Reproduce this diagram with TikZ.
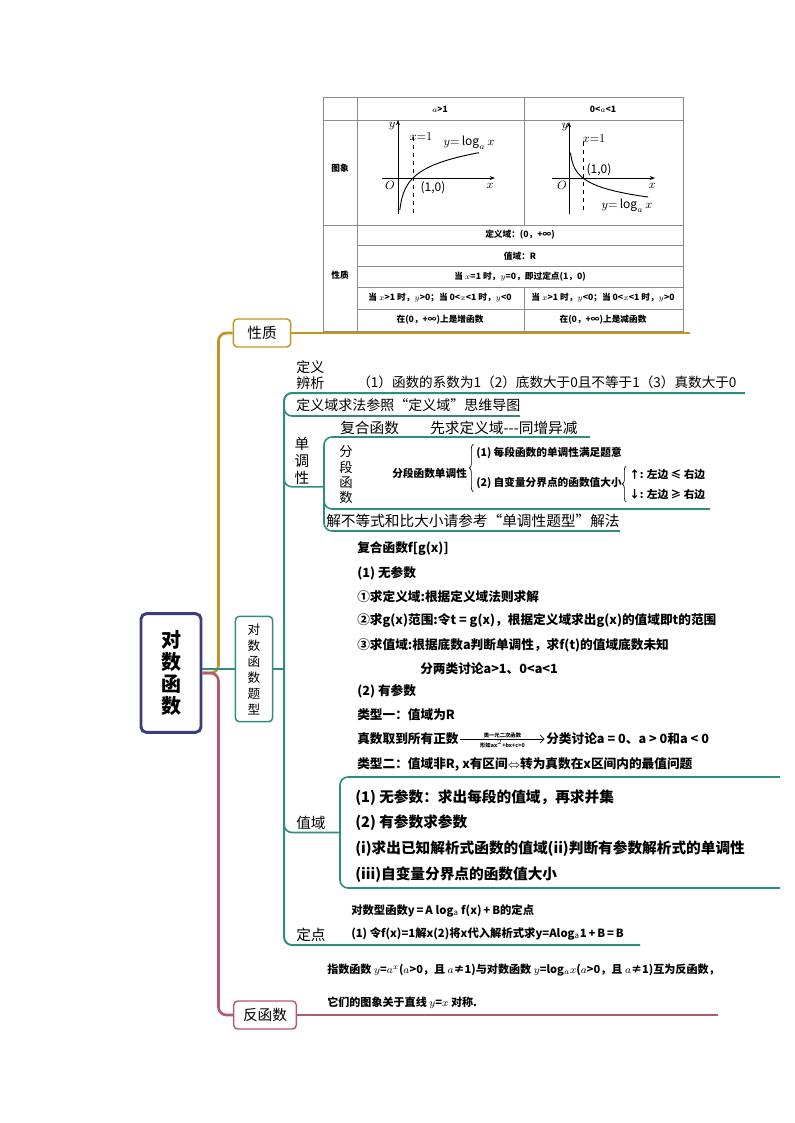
\documentclass[tikz,border=0pt]{standalone}
\usepackage{fontspec}
\setmainfont{Noto Sans CJK SC}
\usetikzlibrary{positioning, calc, arrows.meta, decorations.pathreplacing}
\definecolor{cJin}{HTML}{C39422}
\definecolor{cQing}{HTML}{2E8C80}
\definecolor{cHong}{HTML}{B55A6E}
\definecolor{cLan}{HTML}{3B3F78}
\definecolor{cKuang}{HTML}{8C8C8C}

\begin{document}
\begin{tikzpicture}[x=0.75pt, y=-0.75pt,
        box/.style={draw, line width=1.1pt, rounded corners=3pt, fill=white, align=center,
            inner sep=0pt, font=\fontsize{11}{13}\selectfont},
        zhi/.style={line width=1.5pt, rounded corners=6pt},
        zi/.style={anchor=west, inner sep=0pt, font=\fontsize{11}{13}\selectfont},
        tk/.style={anchor=west, inner sep=0pt, font=\fontsize{9.5}{11}\selectfont\bfseries},
        tkx/.style={anchor=west, inner sep=0pt, font=\fontsize{8.5}{10}\selectfont\bfseries},
        tzy/.style={anchor=west, inner sep=0pt, font=\fontsize{11}{13}\selectfont\bfseries},
        tb/.style={inner sep=0pt, font=\fontsize{6.5}{8}\selectfont\bfseries},
        gl/.style={inner sep=0pt, font=\fontsize{9}{10}\selectfont},
        shu/.style={align=center, inner sep=0pt, font=\fontsize{11}{12.5}\selectfont}
    ]
    \fill[white] (0,0) rectangle (794,1123);
    \useasboundingbox (0,0) rectangle (794,1123);

    % table
    \draw[cKuang, line width=0.6pt] (323,97) rectangle (683,331);
    \draw[cKuang, line width=0.6pt] (323,120) -- (683,120) (323,225) -- (683,225)
        (357,245) -- (683,245) (357,266) -- (683,266) (357,287) -- (683,287) (357,309) -- (683,309)
        (357,97) -- (357,331) (524,97) -- (524,225) (524,287) -- (524,331);
    \node[tb] (bT1) at (440,109) {$a$>1};
    \node[tb] (bT2) at (603,109) {0<$a$<1};
    \node[tb] (bTx) at (340,168) {图象};
    \node[tb] (bXz) at (340,275) {性质};
    \node[tb] (bR1) at (520,235) {定义域：(0，+∞)};
    \node[tb] (bR2) at (520,256) {值域：R};
    \node[tb] (bR3) at (520,277) {当 $x$=1 时，$y$=0，即过定点(1，0)};
    \node[tb] (bR4) at (440,298) {当 $x$>1 时，$y$>0；当 0<$x$<1 时，$y$<0};
    \node[tb] (bR5) at (603,298) {当 $x$>1 时，$y$<0；当 0<$x$<1 时，$y$>0};
    \node[tb] (bR6) at (440,320) {在(0，+∞)上是增函数};
    \node[tb] (bR7) at (603,320) {在(0，+∞)上是减函数};

    \draw[-{Stealth[length=4pt]}, line width=0.6pt] (382,178) -- (495,178);
    \draw[-{Stealth[length=4pt]}, line width=0.6pt] (398,214) -- (398,120);
    \draw[dashed, line width=0.6pt] (413,137) -- (413,213);
    \draw[line width=0.7pt] plot[domain=0.12:5.4, samples=60] ({398+15*\x},{178-15*ln(\x)});
    \node[gl] (g1y) at (392,126) {$y$};
    \node[gl] (g1x) at (490,186) {$x$};
    \node[gl] (g1o) at (390,185) {$O$};
    \node[gl] (g1d) at (421,137) {$x{=}1$};
    \node[gl] (g1l) at (469,143) {$y{=}\log_a x$};
    \node[gl] (g1p) at (433,188) {(1,0)};

    \draw[-{Stealth[length=4pt]}, line width=0.6pt] (552,178) -- (655,178);
    \draw[-{Stealth[length=4pt]}, line width=0.6pt] (569,214) -- (569,122);
    \draw[dashed, line width=0.6pt] (583,142) -- (583,213);
    \draw[line width=0.7pt] plot[domain=0.1:5.65, samples=60] ({569+14*\x},{178+11*ln(\x)});
    \node[gl] (g2y) at (565,127) {$y$};
    \node[gl] (g2x) at (652,186) {$x$};
    \node[gl] (g2o) at (562,185) {$O$};
    \node[gl] (g2d) at (594,139) {$x{=}1$};
    \node[gl] (g2l) at (627,206) {$y{=}\log_a x$};
    \node[gl] (g2p) at (599,170) {(1,0)};

    % main branches
    \node[box, draw=cLan, line width=2.2pt, rounded corners=4pt, minimum width=45pt, minimum height=89pt,
        font=\fontsize{15}{16.5}\selectfont\bfseries] (root) at (171,673) {对\\数\\函\\数};
    \node[box, draw=cJin, minimum width=43pt, minimum height=21pt] (xz) at (262,333) {性质};
    \node[box, draw=cQing, minimum width=28pt, minimum height=79pt,
        font=\fontsize{9.5}{12}\selectfont] (tx) at (254,669) {对\\数\\函\\数\\题\\型};
    \node[box, draw=cHong, minimum width=47pt, minimum height=21pt] (fhs) at (265,1015) {反函数};

    \coordinate (xzE) at (690,333);
    \coordinate (fhsE) at (718,1015);
    \draw[zhi, cJin, line width=2pt] (root.east) -- ++(16,0) |- (xz.west);
    \draw[zhi, cHong, line width=2pt] (root.east) -- ++(16,0) |- (fhs.west);
    \draw[zhi, cQing, line width=2pt] (root.east |- tx.west) -- (tx.west);
    \draw[cJin, line width=1.2pt] (xz.east) -- (xzE);
    \draw[cHong, line width=1.2pt] (fhs.east) -- (fhsE);

    % spine of the teal branch
    \coordinate (sT) at (284,393);
    \coordinate (sB) at (284,945);
    \coordinate (dyE) at (745,393);
    \coordinate (ddE) at (640,945);
    \coordinate (dyyE) at (520,416);
    \coordinate (dT) at (324,437);
    \coordinate (dB) at (324,531);
    \coordinate (fhE) at (590,437);
    \coordinate (jbE) at (620,531);
    \coordinate (fdE) at (710,509);
    \coordinate (zT) at (340,777);
    \coordinate (zB) at (340,888);
    \coordinate (zE1) at (780,777);
    \coordinate (zE2) at (780,888);
    \draw[zhi, cQing] (dyE) -- (sT) -- (sB) -- (ddE);
    \draw[zhi, cQing] (tx.east) -- (tx.east -| sT);
    \draw[zhi, cQing, line width=1.2pt] (sT) ++(0,12) |- (dyyE);
    \draw[zhi, cQing, line width=1.2pt] (fhE) -- (dT) -- (dB) -- (jbE);
    \draw[zhi, cQing, line width=1.2pt] (sT) ++(0,85) |- ($(dT)!0.53!(dB)$);
    \draw[zhi, cQing, line width=1.2pt] (dT) ++(0,62) |- (fdE);
    \draw[zhi, cQing, line width=1.2pt] (zE1) -- (zT) -- (zB) -- (zE2);
    \draw[zhi, cQing, line width=1.2pt] (sT) ++(0,430) |- ($(zT)!0.5!(zB)$);

    % texts
    \node[zi, align=left, font=\fontsize{10.5}{11.5}\selectfont] (dy) at (296,375) {定义\\辨析};
    \node[zi, font=\fontsize{10.2}{12}\selectfont] (dy1) at (357,382) {（1）函数的系数为1（2）底数大于0且不等于1（3）真数大于0};
    \node[zi, font=\fontsize{10.5}{12}\selectfont] (dyy) at (296,405) {定义域求法参照“定义域”思维导图};
    \node[shu] (ddx) at (302,461) {单\\调\\性};
    \node[zi] (fh) at (340,428) {复合函数};
    \node[zi] (fhT) at (430,428) {先求定义域-{}-{}-同增异减};
    \node[shu, font=\fontsize{10}{11.5}\selectfont] (fd) at (346,475) {分\\段\\函\\数};
    \node[zi, font=\fontsize{8}{9}\selectfont\bfseries] (fd1) at (392,473) {分段函数单调性};
    \node[zi, font=\fontsize{8}{9}\selectfont\bfseries] (fd2) at (476,453) {(1) 每段函数的单调性满足题意};
    \node[zi, font=\fontsize{8}{9}\selectfont\bfseries] (fd3) at (476,483) {(2) 自变量分界点的函数值大小};
    \node[zi, font=\fontsize{8}{9}\selectfont\bfseries] (fd4) at (629,474) {↑: 左边 ≤ 右边};
    \node[zi, font=\fontsize{8}{9}\selectfont\bfseries] (fd5) at (629,494) {↓: 左边 ≥ 右边};
    \draw[decorate, decoration={brace, amplitude=3pt}, line width=0.5pt]
        ([xshift=-2pt, yshift=-2pt]fd3.south west) -- ([xshift=-2pt, yshift=2pt]fd2.north west);
    \draw[decorate, decoration={brace, amplitude=3pt}, line width=0.5pt]
        ([xshift=-2pt, yshift=-2pt]fd5.south west) -- ([xshift=-2pt, yshift=2pt]fd4.north west);
    \node[zi] (jb) at (326,521) {解不等式和比大小请参考“单调性题型”解法};

    \node[tk] (k1) at (357,549) {复合函数f[g(x)]};
    \node[tk] (k2) at (357,573) {(1) 无参数};
    \node[tk] (k3) at (357,597) {①求定义域:根据定义域法则求解};
    \node[tk] (k4) at (357,621) {②求g(x)范围:令t = g(x)，根据定义域求出g(x)的值域即t的范围};
    \node[tk] (k5) at (357,645) {③求值域:根据底数a判断单调性，求f(t)的值域底数未知};
    \node[tk] (k6) at (420,669) {分两类讨论a>1、0<a<1};
    \node[tk] (k7) at (357,691) {(2) 有参数};
    \node[tk] (k8) at (357,715) {类型一：值域为R};
    \node[tk] (k9) at (357,739) {真数取到所有正数};
    \node[tk] (k10) at (546,739) {分类讨论a = 0、a > 0和a < 0};
    \draw[-{Straight Barb[length=3pt]}, line width=0.5pt, shorten <=1pt, shorten >=1pt] (k9) --
        node[above=0.5pt, inner sep=0pt, font=\fontsize{4}{4}\selectfont\bfseries] {类一元二次函数}
        node[below=1pt, inner sep=0pt, font=\fontsize{4}{4}\selectfont\bfseries] {形如ax$^2$+bx+c>0} (k10);
    \node[tk] (k11) at (357,764) {类型二：值域非R, x有区间$\Leftrightarrow$转为真数在x区间内的最值问题};

    \node[zi] (zy) at (296,823) {值域};
    \node[tzy] (zy1) at (355,798) {(1) 无参数：求出每段的值域，再求并集};
    \node[tzy] (zy2) at (355,823) {(2) 有参数求参数};
    \node[tzy] (zy3) at (355,849) {(i)求出已知解析式函数的值域(ii)判断有参数解析式的单调性};
    \node[tzy] (zy4) at (355,875) {(iii)自变量分界点的函数值大小};

    \node[zi] (dd) at (296,935) {定点};
    \node[tkx] (dd1) at (351,911) {对数型函数y\,=\,A log$_{\mathrm{a}}$ f(x)\,+\,B的定点};
    \node[tkx] (dd2) at (351,934) {(1) 令f(x)=1解x(2)将x代入解析式求y=Alog$_{\mathrm{a}}$1\,+\,B\,=\,B};

    \node[tk, font=\fontsize{8.3}{10}\selectfont\bfseries] (fs1) at (327,970)
        {指数函数 $y$=$a^x$($a$>0，且 $a$≠1)与对数函数 $y$=log$_a x$($a$>0，且 $a$≠1)互为反函数，};
    \node[tk, font=\fontsize{8.3}{10}\selectfont\bfseries] (fs2) at (327,1003) {它们的图象关于直线 $y$=$x$ 对称.};
\end{tikzpicture}
\end{document}
